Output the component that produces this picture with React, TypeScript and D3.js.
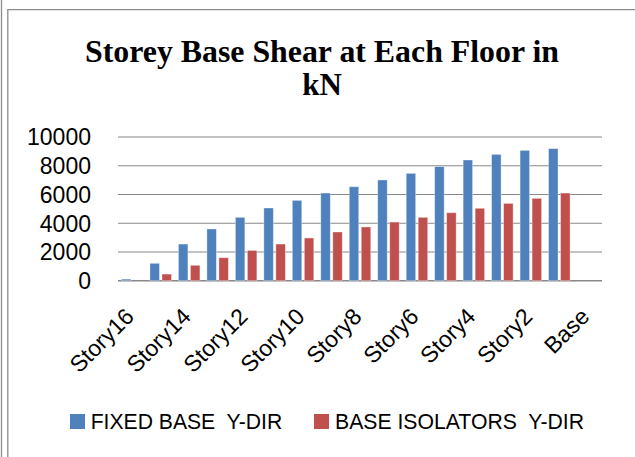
import React from "react";
import * as d3 from "d3";

const categories = [
  "Story16", "Story15", "Story14", "Story13", "Story12", "Story11", "Story10", "Story9",
  "Story8", "Story7", "Story6", "Story5", "Story4", "Story3", "Story2", "Story1", "Base",
];
const fixedBase = [110, 1210, 2550, 3600, 4410, 5060, 5590, 6100, 6540, 7010, 7470, 7940, 8400, 8790, 9070, 9190, 0];
const baseIsolators = [0, 460, 1070, 1600, 2110, 2550, 2970, 3390, 3740, 4080, 4410, 4730, 5040, 5380, 5730, 6100, 0];
const seriesNames = ["FIXED BASE  Y-DIR", "BASE ISOLATORS  Y-DIR"];
const seriesColors = ["#4f81bd", "#c0504d"];
const yTicks = [0, 2000, 4000, 6000, 8000, 10000];
const titleLines = ["Storey Base Shear at Each Floor in", "kN"];

const W = 635;
const H = 457;

export default function App() {
  const x0 = d3.scaleBand<string>().domain(categories).range([118, 602]).paddingInner(0).paddingOuter(0);
  const x1 = d3
    .scaleBand<string>()
    .domain(seriesNames)
    .range([0, x0.bandwidth()])
    .paddingInner(0.21)
    .paddingOuter(0.29);
  const y = d3.scaleLinear().domain([0, 10000]).range([280.7, 137]);
  const series = [fixedBase, baseIsolators];

  const sans = "'Liberation Sans', Arial, sans-serif";
  const serif = "'Liberation Serif', 'Times New Roman', serif";

  return (
    <svg
      width={W}
      height={H}
      viewBox={`0 0 ${W} ${H}`}
      style={{ position: "fixed", left: 0, top: 0, background: "#fff" }}
    >
      <rect x={0} y={0} width={W} height={H} fill="#fff" />
      {/* frame */}
      <line x1={1.5} x2={1.5} y1={0} y2={H} stroke="#8c8c8c" strokeWidth={1.3} />
      <path d={`M7.8,${H} V9.7 H${W}`} fill="none" stroke="#8c8c8c" strokeWidth={1.3} />

      {/* title */}
      <text
        x={85}
        y={62}
        fontFamily={serif}
        fontWeight="bold"
        fontSize={31}
        fill="#000"
        textLength={474}
        lengthAdjust="spacingAndGlyphs"
      >
        {titleLines[0]}
      </text>
      <text x={322} y={95} textAnchor="middle" fontFamily={serif} fontWeight="bold" fontSize={31} fill="#000">
        {titleLines[1]}
      </text>

      {/* gridlines and y tick labels */}
      {yTicks.map((t) => (
        <g key={t}>
          <line
            x1={118}
            x2={602}
            y1={y(t)}
            y2={y(t)}
            stroke="#888"
            strokeWidth={t === 0 ? 1.6 : 1.1}
          />
          <text x={91} y={y(t) + 8.3} textAnchor="end" fontFamily={sans} fontSize={23} fill="#000">
            {t}
          </text>
        </g>
      ))}

      {/* bars */}
      {categories.map((c, i) => (
        <g key={c}>
          {series.map((vals, s) =>
            vals[i] > 0 ? (
              <rect
                key={s}
                x={(x0(c) as number) + (x1(seriesNames[s]) as number)}
                y={y(vals[i])}
                width={x1.bandwidth()}
                height={y(0) - y(vals[i])}
                fill={seriesColors[s]}
                stroke="rgba(255,255,255,0.45)"
                strokeWidth={0.8}
              />
            ) : null
          )}
        </g>
      ))}

      {/* x labels, every other category */}
      {categories.map((c, i) =>
        i % 2 === 0 ? (
          <text
            key={c}
            transform={`translate(${(x0(c) as number) + x0.bandwidth() / 2 + 3},318) rotate(-45)`}
            textAnchor="end"
            fontFamily={sans}
            fontSize={23}
            fill="#000"
          >
            {c}
          </text>
        ) : null
      )}

      {/* legend */}
      <rect x={70} y={414} width={15} height={15} fill={seriesColors[0]} />
      <text x={90.7} y={429} fontFamily={sans} fontSize={22} fill="#000" textLength={191.5} lengthAdjust="spacingAndGlyphs" style={{ whiteSpace: "pre" }}>
        {seriesNames[0]}
      </text>
      <rect x={314} y={414} width={15} height={15} fill={seriesColors[1]} />
      <text x={335} y={429} fontFamily={sans} fontSize={22} fill="#000" textLength={249} lengthAdjust="spacingAndGlyphs" style={{ whiteSpace: "pre" }}>
        {seriesNames[1]}
      </text>
    </svg>
  );
}
